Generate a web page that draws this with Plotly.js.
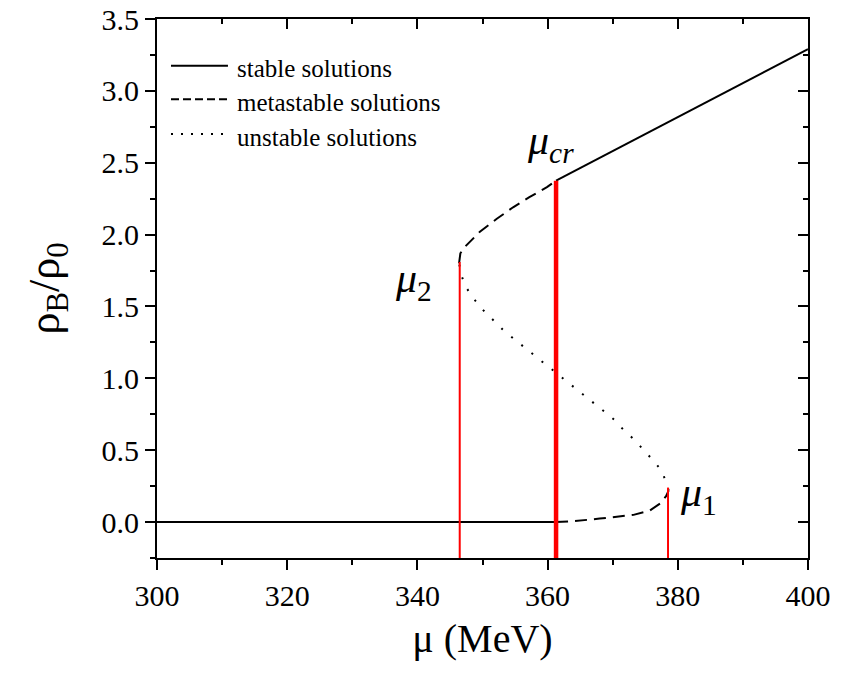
<!DOCTYPE html>
<html>
<head>
<meta charset="utf-8">
<script src="https://cdn.plot.ly/plotly-3.0.1.min.js"></script>
<style>html,body{margin:0;padding:0;background:#fff;}#chart{width:842px;height:673px;}</style>
</head>
<body>
<div id="chart"></div>
<script>
// ---- data ----
var stableLowX = [300, 320, 340, 355, 361.3];
var stableLowY = [0, 0, 0, 0, 0];

var metaLowX = [361.3, 364, 368, 371, 373.2, 375.7, 377.3, 378.2, 378.6];
var metaLowY = [0, 0.006, 0.024, 0.038, 0.05, 0.08, 0.13, 0.18, 0.22];

var unstableX = [378.6, 378.2, 377.6, 376.4, 374.8, 373.2, 371.6, 370.2, 368.7, 367.1, 365.5, 363.9, 362.4, 360.9, 359.3, 357.8, 356.3, 354.7, 353.1, 351.6, 350.0, 348.6, 347.5, 346.8, 346.4];
var unstableY = [0.22, 0.28, 0.353, 0.42, 0.50, 0.578, 0.645, 0.713, 0.769, 0.827, 0.884, 0.940, 0.999, 1.054, 1.107, 1.163, 1.219, 1.279, 1.340, 1.407, 1.479, 1.556, 1.632, 1.711, 1.80];

var metaHighX = [346.4, 346.6, 347.3, 349.6, 352.2, 354.7, 357.2, 359.9, 361.3];
var metaHighY = [1.80, 1.87, 1.915, 2.02, 2.11, 2.19, 2.26, 2.33, 2.375];

var stableHighX = [361.3, 370, 380, 390, 400];
var stableHighY = [2.375, 2.58, 2.815, 3.05, 3.29];

var criticalNames = ["μ2", "μcr", "μ1"];
var criticalX = [346.5, 361.3, 378.5];
var criticalTop = [1.81, 2.375, 0.24];

var legendLabels = ["stable solutions", "metastable solutions", "unstable solutions"];

var xRange = [300, 400];
var yRange = [-0.25, 3.5];

// ---- styles ----
var FONT = "Liberation Serif, Times New Roman, serif";
var curveDash = "12px,7px";
var curveDot = "2px,11px";

function seg(x, y, dash) {
  return {x: x, y: y, mode: "lines", type: "scatter", showlegend: false, hoverinfo: "skip",
          line: {color: "#000", width: 2, dash: dash}};
}

var traces = [
  seg(stableLowX, stableLowY, "solid"),
  seg(metaLowX, metaLowY, curveDash),
  seg(unstableX, unstableY, curveDot),
  seg(metaHighX, metaHighY, curveDash),
  seg(stableHighX, stableHighY, "solid")
];

var redWidths = [2, 4.5, 2];
for (var i = 0; i < criticalX.length; i++) {
  traces.push({x: [criticalX[i], criticalX[i]], y: [yRange[0], criticalTop[i]], mode: "lines", type: "scatter",
               name: criticalNames[i], showlegend: false, hoverinfo: "skip", line: {color: "#ff0000", width: redWidths[i]}});
}
// helper trace to create the mirrored (top/right) axes
traces.push({x: [criticalX[1]], y: [criticalTop[1]], xaxis: "x2", yaxis: "y2", mode: "markers",
             marker: {opacity: 0}, showlegend: false, hoverinfo: "skip"});

var axisCommon = {showgrid: false, zeroline: false, linecolor: "#000", linewidth: 2,
                  tickcolor: "#000", tickwidth: 2, tickfont: {family: FONT, size: 30, color: "#000"}};

var layout = {
  width: 842, height: 673,
  margin: {l: 157, r: 34, t: 19, b: 115},
  paper_bgcolor: "#fff", plot_bgcolor: "#fff",
  showlegend: false,
  xaxis: Object.assign({}, axisCommon, {
    range: xRange, dtick: 20, tick0: 300, ticks: "outside", ticklen: 10, mirror: true, showline: true,
    minor: {dtick: 10, ticks: "outside", ticklen: 5, tickwidth: 2, tickcolor: "#000"},
    title: {text: "μ (MeV)", font: {family: FONT, size: 40, color: "#000"}, standoff: 13}
  }),
  yaxis: Object.assign({}, axisCommon, {
    range: yRange, dtick: 0.5, tick0: 0, tickformat: ".1f", ticks: "outside", ticklen: 10, mirror: true, showline: true,
    minor: {dtick: 0.25, ticks: "outside", ticklen: 5, tickwidth: 2, tickcolor: "#000"},
    title: {text: "ρ<sub>B</sub>/ρ<sub>0</sub>", font: {family: FONT, size: 44, color: "#000"}, standoff: 28}
  }),
  xaxis2: {range: xRange, overlaying: "x", side: "top", anchor: "y2", showgrid: false, zeroline: false,
           showline: false, showticklabels: false, dtick: 20, tick0: 300, ticks: "inside", ticklen: 10,
           tickwidth: 2, tickcolor: "#000",
           minor: {dtick: 10, ticks: "inside", ticklen: 5, tickwidth: 2, tickcolor: "#000"}},
  yaxis2: {range: yRange, overlaying: "y", side: "right", anchor: "x2", showgrid: false, zeroline: false,
           showline: false, showticklabels: false, dtick: 0.5, tick0: 0, ticks: "inside", ticklen: 10,
           tickwidth: 2, tickcolor: "#000",
           minor: {dtick: 0.25, ticks: "inside", ticklen: 5, tickwidth: 2, tickcolor: "#000"}},
  shapes: [],
  annotations: []
};

// hand-made legend (line samples + labels) in paper coordinates
var legendDash = ["solid", "8px,4px", "2px,8px"];
var legendRowsY = [0.9134, 0.851, 0.7866];
for (var k = 0; k < legendLabels.length; k++) {
  layout.shapes.push({type: "line", xref: "paper", yref: "paper", x0: 0.0215, x1: 0.109,
                      y0: legendRowsY[k], y1: legendRowsY[k], line: {color: "#000", width: 2, dash: legendDash[k]}});
  layout.annotations.push({xref: "paper", yref: "paper", x: 0.1195, y: legendRowsY[k] - 0.006, xanchor: "left", yanchor: "middle",
                           showarrow: false, text: legendLabels[k], font: {family: FONT, size: 25, color: "#000"}});
}

// critical-point labels
var labelText = ["<i>μ</i><sub>2</sub>", "<i>μ</i><sub><i>cr</i></sub>", "<i>μ</i><sub>1</sub>"];
var labelPos = [[336.3, 1.675], [356.5, 2.64], [380.0, 0.186]];
for (var j = 0; j < labelText.length; j++) {
  layout.annotations.push({xref: "x", yref: "y", x: labelPos[j][0], y: labelPos[j][1], xanchor: "left", yanchor: "middle",
                           showarrow: false, text: labelText[j], font: {family: FONT, size: 42, color: "#000"}});
}

Plotly.newPlot("chart", traces, layout, {displayModeBar: false, staticPlot: true});
</script>
</body>
</html>
